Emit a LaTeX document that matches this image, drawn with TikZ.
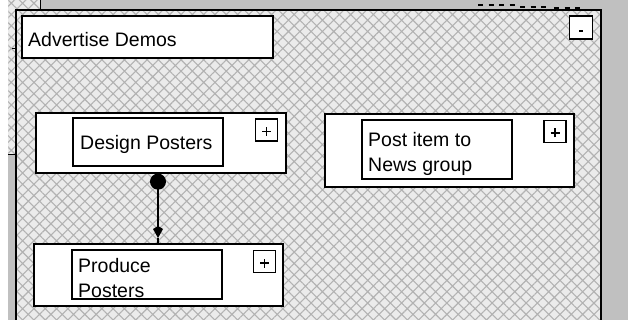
\documentclass[tikz,border=0pt]{standalone}
\usepackage{fontspec}
\setmainfont{Liberation Sans}
\usetikzlibrary{arrows.meta,patterns.meta}
\definecolor{wingray}{HTML}{C0C0C0}
\definecolor{hatchbg}{HTML}{EBEBEB}
\definecolor{hatchln}{HTML}{B2B2B2}
\tikzset{
  hatched/.style={preaction={fill=hatchbg}, pattern={Hatch[angle=45,distance=8pt,line width=1.1pt]}, pattern color=hatchln},
  outerbox/.style={draw=black, line width=1.3pt, fill=white, rectangle, inner sep=0pt},
  innerbox/.style={draw=black, line width=1.1pt, fill=white, rectangle, inner sep=0pt, minimum width=150pt},
  plusbox/.style={draw=black, line width=1.2pt, fill=white, rectangle, minimum size=22pt, inner sep=0pt,
    path picture={
      \draw[line width=1.3pt] ([xshift=-4.5pt,yshift=-1.5pt]path picture bounding box.center) -- ++(9pt,0pt);
      \draw[line width=1.3pt] ([yshift=-6pt]path picture bounding box.center) -- ++(0pt,9pt);
    }},
  minusbox/.style={draw=black, line width=1.8pt, fill=white, rectangle, minimum size=23pt, inner sep=0pt,
    path picture={
      \draw[line width=1.4pt] ([xshift=-2pt,yshift=-3.5pt]path picture bounding box.center) -- ++(4pt,0pt);
    }},
  lbl/.style={anchor=base west, inner sep=0pt, align=left, font=\fontsize{19.5}{25}\selectfont},
  topdash/.style={draw=black, line width=2pt, dash pattern=on 5pt off 5.5pt},
  link/.style={line width=1.6pt},
}
\begin{document}
\begin{tikzpicture}[x=1pt,y=-1pt]
\useasboundingbox (0,0) rectangle (628,320);
\fill[white] (0,0) rectangle (628,320);
% surrounding window parts
\fill[hatched] (8,0) rectangle (40,10);
\fill[hatched] (8,0) rectangle (16,155);
\fill[wingray] (8,155) rectangle (16,320);
\fill[wingray] (40,0) rectangle (628,10);
\fill[wingray] (601,0) rectangle (628,320);
\draw[line width=1pt] (8,155) -- (16,155);
\draw[line width=1pt] (40,0) -- (40,10);
\draw[line width=1pt] (12,49) -- (16,49);
% dashed marks on top strip
\draw[topdash] (478,5) -- (516,5);
\draw[topdash] (520,7) -- (550,7);
\draw[topdash] (554,8.5) -- (584,8.5);
% main frame
\fill[hatched] (16,10) rectangle (601,320);
\draw[line width=1.2pt] (16,322) -- (16,10) -- (601,10);
\draw[line width=2pt] (601,9.5) -- (601,322);
\node[minusbox] (mb) at (581,27.5) {};
% Advertise Demos title box
\node[outerbox, minimum width=251pt, minimum height=42pt] (adv) at (147.5,37) {};
\node[lbl] (advt) at (28,47) {Advertise Demos};
% Design Posters
\node[outerbox, minimum width=250pt, minimum height=60pt] (dpo) at (161,143) {};
\node[innerbox, minimum height=48pt] (dpi) at (148,142) {};
\node[plusbox] (dpp) at (266.5,130) {};
\node[lbl] (dpt) at (80,150) {Design Posters};
% Post item to News group
\node[outerbox, minimum width=249pt, minimum height=73pt] (pno) at (449.5,150.5) {};
\node[innerbox, minimum height=59pt] (pni) at (437,149.5) {};
\node[plusbox] (pnp) at (555,131.5) {};
\node[lbl] (pnt) at (368,172) {Post item to\\News group};
% Produce Posters
\node[outerbox, minimum width=249pt, minimum height=62pt] (ppo) at (158.5,275) {};
\node[innerbox, minimum height=49pt] (ppi) at (147,274.5) {};
\node[plusbox] (ppp) at (264.5,261.5) {};
\node[lbl] (ppt) at (78,297) {Produce\\Posters};
% precedence link
\coordinate (tipend) at (158,238);
\draw[link, {Circle[length=16pt]}-{Kite[length=12pt,width=10pt,inset=3pt]}] (dpo.south -| tipend) -- (tipend);
\draw[link] (tipend) -- (ppo.north -| tipend);
\end{tikzpicture}
\end{document}
